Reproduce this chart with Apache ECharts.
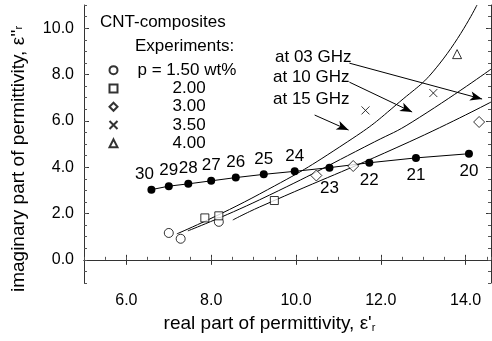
<!DOCTYPE html>
<html><head><meta charset="utf-8">
<script src="https://cdn.jsdelivr.net/npm/echarts@6/dist/echarts.min.js"></script>
<style>html,body{margin:0;padding:0;background:#fff}#c{width:492px;height:341px}</style>
</head><body><div id="c"></div>
<script>
// tick labels
const xTicks = [6, 8, 10, 12, 14];
const yTicks = [0, 2, 4, 6, 8, 10];
// calculated points (frequency labels, GHz)
const freqLabels = ['30','29','28','27','26','25','24','23','22','21','20'];
const calcX = [6.59, 7.00, 7.46, 8.00, 8.58, 9.24, 9.97, 10.79, 11.73, 12.83, 14.08];
const calcY = [3.03, 3.18, 3.28, 3.41, 3.55, 3.69, 3.82, 3.98, 4.19, 4.40, 4.58];
// experiments
const exp150X = [7.00, 7.28, 8.18];
const exp150Y = [1.16, 0.91, 1.64];
const exp200X = [7.85, 8.18, 9.49];
const exp200Y = [1.81, 1.90, 2.56];
const exp300X = [10.48, 11.35, 14.32];
const exp300Y = [3.64, 4.05, 5.95];
const exp350X = [11.64, 13.24];
const exp350Y = [6.45, 7.20];
const exp400X = [13.80];
const exp400Y = [8.88];
// model curves
const curveAX = [7.19, 9.14, 11.21, 12.44, 13.38, 14.27];
const curveAY = [1.12, 2.84, 5.09, 6.81, 8.45, 11.0];
const curveBX = [7.45, 9.14, 11.85, 12.74, 14.6];
const curveBY = [1.25, 2.59, 5.09, 5.95, 8.23];
const curveCX = [8.51, 9.14, 12.67, 14.6];
const curveCY = [1.72, 2.28, 5.09, 6.81];
// annotation arrows [fromX, fromY, toX, toY]
const arrow03 = [11.26, 8.49, 14.39, 6.94];
const arrow10 = [11.26, 7.67, 12.74, 6.38];
const arrow15 = [10.44, 6.25, 11.24, 5.60];

const zip = (a, b) => a.map((v, i) => [v, b[i]]);
const FONT = 'Liberation Sans';
const black = '#000';

const chart = echarts.init(document.getElementById('c'), null, {renderer: 'canvas'});
const xRange = {min: 5, max: 14.6};
const yRange = {min: -1, max: 11};
const lineAxis = {show: true, lineStyle: {color: '#333', width: 1}};

const arrowML = (a) => ({
  silent: true, symbol: ['none', 'arrow'], symbolSize: [7, 12],
  itemStyle: {color: black},
  lineStyle: {color: black, width: 1, type: 'solid'}, label: {show: false},
  data: [[{coord: [a[0], a[1]]}, {coord: [a[2], a[3]]}]]
});

const expStyle = {color: '#fff', borderColor: black, borderWidth: 1};

const option = {
  animation: false,
  textStyle: {fontFamily: FONT},
  grid: {left: 84, right: 1, top: 5, bottom: 58, containLabel: false},
  xAxis: [
    Object.assign({type: 'value', position: 'bottom', axisLine: lineAxis,
      splitLine: {show: false},
      axisTick: {show: true, inside: true, length: 5, customValues: xTicks, lineStyle: {color: '#333'}},
      axisLabel: {customValues: xTicks, formatter: v => v.toFixed(1), fontSize: 16, color: black, margin: 10, fontFamily: FONT},
      name: 'real part of permittivity, ε\'{s|r}', nameLocation: 'middle', nameGap: 30,
      nameTextStyle: {fontSize: 19, color: black, fontFamily: FONT, padding: [0, 36, 0, 0],
        rich: {s: {fontSize: 11, verticalAlign: 'bottom', padding: [9, 0, 0, 0], fontFamily: FONT}}}
    }, xRange),
    Object.assign({type: 'value', position: 'bottom', interval: 0.5, axisLine: {show: false},
      splitLine: {show: false}, axisLabel: {show: false},
      axisTick: {show: true, inside: true, length: 3, lineStyle: {color: '#555'}}}, xRange),
    Object.assign({type: 'value', position: 'top', axisLine: lineAxis, splitLine: {show: false},
      axisLabel: {show: false},
      axisTick: {show: true, inside: true, length: 5, customValues: xTicks, lineStyle: {color: '#333'}}}, xRange)
  ],
  yAxis: [
    Object.assign({type: 'value', position: 'left', axisLine: lineAxis, splitLine: {show: false},
      axisTick: {show: true, inside: true, length: 5, customValues: yTicks, lineStyle: {color: '#333'}},
      axisLabel: {customValues: yTicks, formatter: v => v.toFixed(1), fontSize: 16, color: black, margin: 10, fontFamily: FONT},
      name: 'imaginary part of permittivity, ε\'\'{s|r}', nameLocation: 'middle', nameRotate: 90, nameGap: 56,
      nameTextStyle: {fontSize: 19, color: black, fontFamily: FONT, padding: [0, 30, 0, 0],
        rich: {s: {fontSize: 11, fontFamily: FONT}}}
    }, yRange),
    Object.assign({type: 'value', position: 'left', interval: 0.5, axisLine: {show: false},
      splitLine: {show: false}, axisLabel: {show: false},
      axisTick: {show: true, inside: true, length: 3, lineStyle: {color: '#555'}}}, yRange),
    Object.assign({type: 'value', position: 'right', axisLine: lineAxis, splitLine: {show: false},
      axisLabel: {show: false},
      axisTick: {show: true, inside: true, length: 5, customValues: yTicks, lineStyle: {color: '#333'}}}, yRange),
    Object.assign({type: 'value', position: 'right', interval: 0.5, axisLine: {show: false},
      splitLine: {show: false}, axisLabel: {show: false},
      axisTick: {show: true, inside: true, length: 3, lineStyle: {color: '#555'}}}, yRange)
  ],
  legend: {
    left: 107, top: 61, orient: 'vertical', padding: 0, itemGap: 0,
    itemWidth: 8, itemHeight: 8, selectedMode: false,
    data: ['p = 1.50 wt%', '2.00', '3.00', '3.50', '4.00'],
    formatter: n => n.startsWith('p') ? '{a|' + n + '}' : '{b|' + n + '}',
    textStyle: {fontSize: 17, color: black, fontFamily: FONT, lineHeight: 18.3,
      rich: {a: {fontSize: 17, fontFamily: FONT, padding: [0, 0, 0, 15], lineHeight: 18.3},
             b: {fontSize: 17, fontFamily: FONT, padding: [0, 0, 0, 50], lineHeight: 18.3}}}
  },
  graphic: [
    {type: 'text', left: 100, top: 14, style: {text: 'CNT-composites', fontSize: 17, fontFamily: FONT, fill: black}},
    {type: 'text', left: 135, top: 38, style: {text: 'Experiments:', fontSize: 17, fontFamily: FONT, fill: black}},
    {type: 'text', left: 275, top: 49, style: {text: 'at 03 GHz', fontSize: 17, fontFamily: FONT, fill: black}},
    {type: 'text', left: 273, top: 69, style: {text: 'at 10 GHz', fontSize: 17, fontFamily: FONT, fill: black}},
    {type: 'text', left: 273, top: 91, style: {text: 'at 15 GHz', fontSize: 17, fontFamily: FONT, fill: black}}
  ],
  series: [
    {name: 'model A', type: 'line', smooth: true, showSymbol: false, data: zip(curveAX, curveAY),
      lineStyle: {color: black, width: 1}, itemStyle: {color: black}, markLine: arrowML(arrow15), z: 2},
    {name: 'model B', type: 'line', smooth: true, showSymbol: false, data: zip(curveBX, curveBY),
      lineStyle: {color: black, width: 1}, itemStyle: {color: black}, markLine: arrowML(arrow10), z: 2},
    {name: 'model C', type: 'line', smooth: true, showSymbol: false, data: zip(curveCX, curveCY),
      lineStyle: {color: black, width: 1}, itemStyle: {color: black}, markLine: arrowML(arrow03), z: 2},
    {name: 'calc', type: 'line', symbol: 'circle', symbolSize: 8,
      lineStyle: {color: black, width: 1}, itemStyle: {color: black}, z: 4,
      data: calcX.map((x, i) => {
        const top = i < 7;
        return {value: [x, calcY[i]], label: {show: true, formatter: freqLabels[i],
          position: top ? 'top' : 'bottom', distance: top ? 3 : (i === 7 ? 8 : 5),
          offset: i === 0 ? [-7, 0] : [0, 0],
          fontSize: 17, color: black, fontFamily: FONT}};
      })},
    {name: 'p = 1.50 wt%', type: 'scatter', symbol: 'circle', symbolSize: 9, itemStyle: expStyle, data: zip(exp150X, exp150Y), z: 5},
    {name: '2.00', type: 'scatter', symbol: 'rect', symbolSize: 8, itemStyle: expStyle, data: zip(exp200X, exp200Y), z: 5},
    {name: '3.00', type: 'scatter', symbol: 'diamond', symbolSize: 11, itemStyle: expStyle, data: zip(exp300X, exp300Y), z: 5},
    {name: '3.50', type: 'scatter', symbol: 'path://M0 0L10 10M10 0L0 10', symbolSize: 8,
      itemStyle: {color: 'none', borderColor: black, borderWidth: 1}, data: zip(exp350X, exp350Y), z: 5},
    {name: '4.00', type: 'scatter', symbol: 'triangle', symbolSize: 9, itemStyle: expStyle, data: zip(exp400X, exp400Y), z: 5}
  ]
};
chart.setOption(option);
</script>
</body></html>
